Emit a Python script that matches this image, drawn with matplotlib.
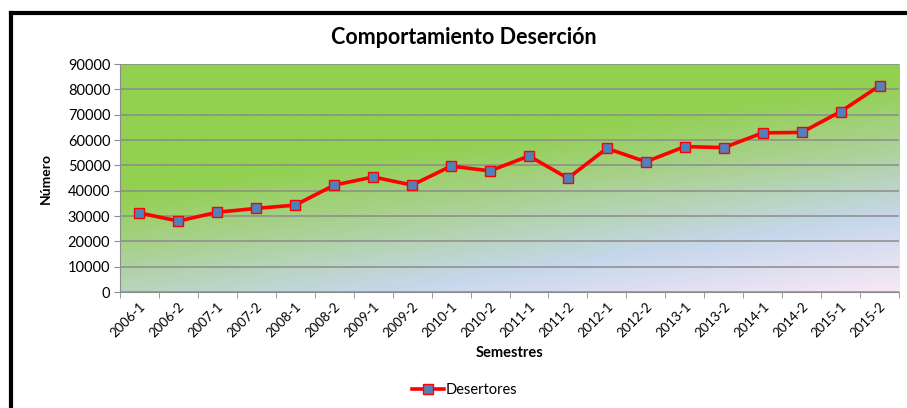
import numpy as np
import matplotlib
matplotlib.use('Agg')
import matplotlib.pyplot as plt
from matplotlib.lines import Line2D
from matplotlib.colors import LinearSegmentedColormap

semestres = ['2006-1', '2006-2', '2007-1', '2007-2', '2008-1', '2008-2', '2009-1',
             '2009-2', '2010-1', '2010-2', '2011-1', '2011-2', '2012-1', '2012-2',
             '2013-1', '2013-2', '2014-1', '2014-2', '2015-1', '2015-2']
desertores = [31200, 28000, 31500, 33000, 34300, 42200, 45400, 42200, 49700, 47800,
              53700, 44900, 56700, 51400, 57400, 57000, 62800, 63000, 71200, 81400]
y_ticks = [0, 10000, 20000, 30000, 40000, 50000, 60000, 70000, 80000, 90000]

plt.rcParams['font.family'] = ['Lato', 'DejaVu Sans']

fig = plt.figure(figsize=(9.07, 4.08), dpi=100)
ax = fig.add_axes([120/907, 1-292/408, 779/907, 228/408])

# background gradient: green top-left -> light blue -> pink bottom-right
cmap = LinearSegmentedColormap.from_list('bg', [
    (0.0, '#92D050'), (0.38, '#92D050'), (0.55, '#A9D18E'), (0.78, '#C6D7EC'),
    (1.0, '#F8E8F6')])
xx, yy = np.meshgrid(np.linspace(0, 1, 200), np.linspace(0, 1, 120))
t = (yy + 0.5*xx) / 1.5
ax.imshow(t, cmap=cmap, vmin=0, vmax=1, extent=[0, 1, 0, 1], transform=ax.transAxes,
          aspect='auto', zorder=0, interpolation='bilinear')

x = np.arange(len(semestres))
ax.plot(x, desertores, color='#FF0000', lw=2.6, marker='s', ms=6.5,
        markerfacecolor='#4F81BD', markeredgecolor='#FF0000', markeredgewidth=1.0,
        zorder=3, label='Desertores')

ax.set_xlim(-0.5, len(semestres) - 0.5)
ax.set_ylim(0, 90000)
ax.set_yticks(y_ticks)
ax.set_yticklabels([str(v) for v in y_ticks], fontsize=10.5)
ax.yaxis.grid(True, color='#8C8C8C', lw=1.1, zorder=1)
ax.set_axisbelow(True)

ax.set_xticks(x)
ax.set_xticklabels(semestres, rotation=45, ha='right', rotation_mode='anchor', fontsize=9.5)
ax.tick_params(axis='x', which='major', length=0, pad=6)
ax.set_xticks(np.arange(len(semestres) + 1) - 0.5, minor=True)
ax.tick_params(axis='x', which='minor', length=4, color='#8C8C8C')
ax.tick_params(axis='y', length=4, color='#8C8C8C', pad=3)

for s in ['top', 'right']:
    ax.spines[s].set_visible(False)
ax.spines['left'].set_color('#8C8C8C')
ax.spines['bottom'].set_color('#8C8C8C')

fig.text(464/907, 1-37/408, 'Comportamiento Deserción', ha='center', va='center',
         fontsize=15.5, fontweight='bold')
fig.text(46/907, 1-178/408, 'Número', ha='center', va='center', rotation=90,
         fontsize=10, fontweight='bold')
fig.text(510/907, 1-353/408, 'Semestres', ha='center', va='center',
         fontsize=10.5, fontweight='bold')

fig.legend(loc='center', bbox_to_anchor=(465/907, 1-390/408), frameon=False,
           fontsize=10.5, handlelength=2.2, handletextpad=0.1)

# black frame (top and left)
fig.add_artist(Line2D([10.5/907, 10.5/907], [0, 1-13/408], color='black', lw=3,
                      transform=fig.transFigure, solid_capstyle='projecting'))
fig.add_artist(Line2D([10.5/907, 1], [1-13/408, 1-13/408], color='black', lw=3,
                      transform=fig.transFigure, solid_capstyle='projecting'))

fig.savefig('out.png', dpi=100)
